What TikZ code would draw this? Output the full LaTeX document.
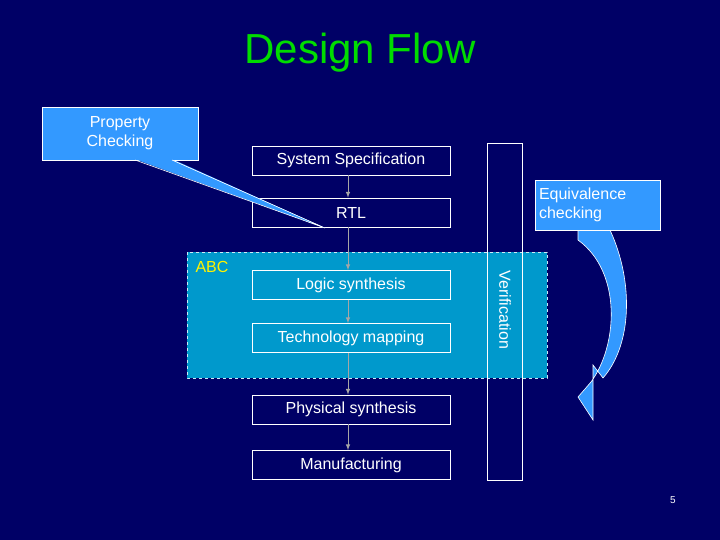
\documentclass[tikz,border=0pt]{standalone}
\usepackage{fontspec}
\setmainfont{Liberation Sans}
\begin{document}
\begin{tikzpicture}[x=1pt,y=-1pt,
  stage/.style={draw=white, line width=0.6pt, minimum width=198pt, minimum height=29pt,
    inner sep=0pt, text=white, font=\fontsize{16}{18}\selectfont},
  callout/.style={draw=white, fill=callblue, line width=0.6pt, inner sep=0pt,
    text=white, font=\fontsize{16}{19}\selectfont, align=center},
  flow/.style={-latex, draw=gray!70, line width=1pt}]
\definecolor{navy}{HTML}{000066}
\definecolor{callblue}{HTML}{3399FF}
\definecolor{abcteal}{HTML}{0099CC}
\fill[navy] (0,0) rectangle (720,540);
\useasboundingbox (0,0) rectangle (720,540);

\node[text={rgb,255:red,0;green,220;blue,0}, font=\fontsize{42}{46}\selectfont] (title) at (360,53) {Design Flow};

% ABC region
\draw[fill=abcteal, draw=white!80!abcteal, dashed, line width=0.6pt] (187,252) rectangle (547,378);
\node[text=yellow, font=\fontsize{16}{18}\selectfont] (abc) at (212,267) {ABC};

% verification column
\node[draw=white, line width=0.6pt, minimum width=35pt, minimum height=337pt, inner sep=0pt] (ver) at (504.5,311.5) {};
\node[rotate=-90, text=white, font=\fontsize{16}{18}\selectfont] (vertext) at (505,310) {Verification};

% flow steps
\node[stage] (spec) at (351,160.5) {System Specification};
\node[stage] (rtl) at (351,212.5) {RTL};
\node[stage] (logic) at (351,285) {Logic synthesis};
\node[stage] (tech) at (351,338) {Technology mapping};
\node[stage] (phys) at (351,409.5) {Physical synthesis};
\node[stage] (manu) at (351,465) {Manufacturing};

\draw[flow] (spec.south -| 348,0) -- (rtl.north -| 348,0);
\draw[flow] (rtl.south -| 348,0) -- (logic.north -| 348,0);
\draw[flow] (logic.south -| 348,0) -- (tech.north -| 348,0);
\draw[flow] (tech.south -| 348,0) -- (phys.north -| 348,0);
\draw[flow] (phys.south -| 348,0) -- (manu.north -| 348,0);

% property checking callout
\coordinate (ptip) at (325,228);
\fill[callblue] (135,159) -- (ptip) -- (172,159) -- cycle;
\node[callout, minimum width=156pt, minimum height=53pt] (prop) at (120,133.5) {Property\\Checking};
\fill[callblue] (136,159.4) -- (ptip) -- (171,159.4) -- cycle;
\draw[white, line width=0.6pt] (135,160) -- (ptip) -- (172,160);

% equivalence checking callout with curved arrow
\fill[callblue, draw=white, line width=0.6pt] (578,230) -- (610,230)
  .. controls (634,282) and (632,345) .. (603,378) -- (593,365) -- (593,420) -- (578,397) -- (591,382)
  .. controls (618,345) and (622,272) .. (578,240) -- cycle;
\node[callout, align=left, minimum width=125pt, minimum height=50pt, text width=117pt] (equiv) at (597.5,205) {Equivalence\\checking};

\node[text=white, font=\fontsize{10}{12}\selectfont] (page) at (673,500) {5};
\end{tikzpicture}
\end{document}
